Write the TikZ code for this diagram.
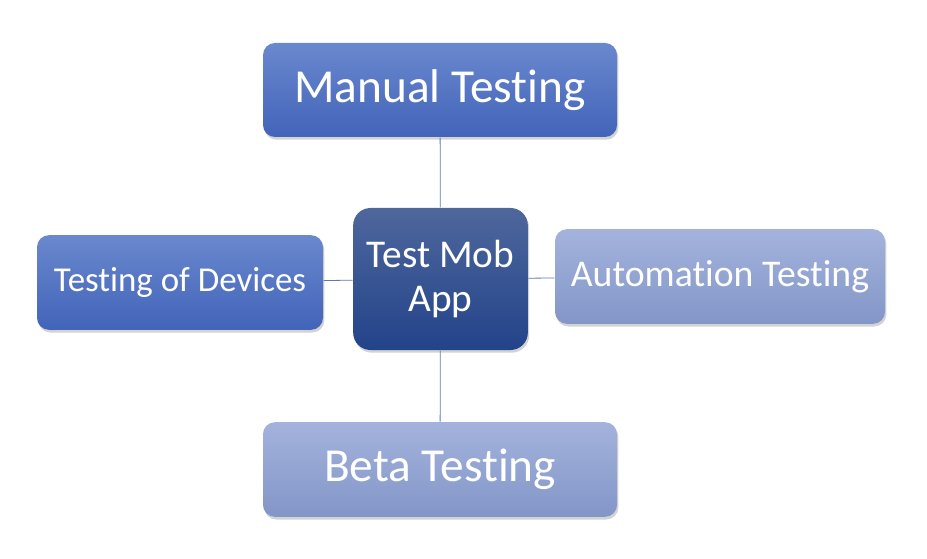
\documentclass[tikz,border=0pt]{standalone}
\usepackage{fontspec}
\setmainfont[RawFeature={-liga;-clig;-dlig;-calt}]{Carlito}
\usetikzlibrary{shadows}
\definecolor{darktop}{HTML}{6A88CE}
\definecolor{darkbot}{HTML}{4264B9}
\definecolor{hubtop}{HTML}{4E679C}
\definecolor{hubbot}{HTML}{23438A}
\definecolor{lighttop}{HTML}{A4B3DD}
\definecolor{lightbot}{HTML}{8296C7}
\definecolor{linkcol}{HTML}{5F78B4}

\begin{document}
\begin{tikzpicture}
            [x=0.75pt,y=-0.75pt,thick,
             every node/.style={rounded corners=9pt,text=white,align=center,
               drop shadow={opacity=0.35,shadow xshift=1pt,shadow yshift=-2pt}},
             darkbox/.style={top color=darktop,bottom color=darkbot},
             lightbox/.style={top color=lighttop,bottom color=lightbot}]
            \useasboundingbox (0,0) rectangle (927,559);
            \node[darkbox,minimum width=265.5pt,minimum height=70.5pt,font=\fontsize{35.5}{40}\selectfont] (manual) at (440,90) {Manual Testing};
            \node[top color=hubtop,bottom color=hubbot,rounded corners=13pt,minimum width=131pt,minimum height=106.5pt,font=\fontsize{29.5}{33}\selectfont] (hub) at (440.5,279) {Test Mob\\App};
            \node[darkbox,minimum width=214.5pt,minimum height=71pt,font=\fontsize{26.2}{30}\selectfont] (devices) at (180,282.5) {Testing of Devices};
            \node[lightbox,minimum width=247.5pt,minimum height=71pt,font=\fontsize{28.3}{32}\selectfont] (auto) at (720,276.5) {Automation Testing};
            \node[lightbox,minimum width=265.5pt,minimum height=71pt,font=\fontsize{35.5}{40}\selectfont] (beta) at (440,469.5) {Beta Testing};
            \draw[linkcol,line width=0.6pt] (hub) -- (manual);
            \draw[linkcol,line width=0.6pt] (hub) -- (beta);
            \draw[linkcol,line width=0.6pt] (hub) -- (devices);
            \draw[linkcol,line width=0.6pt] (hub) -- (auto);

        \end{tikzpicture}
\end{document}
